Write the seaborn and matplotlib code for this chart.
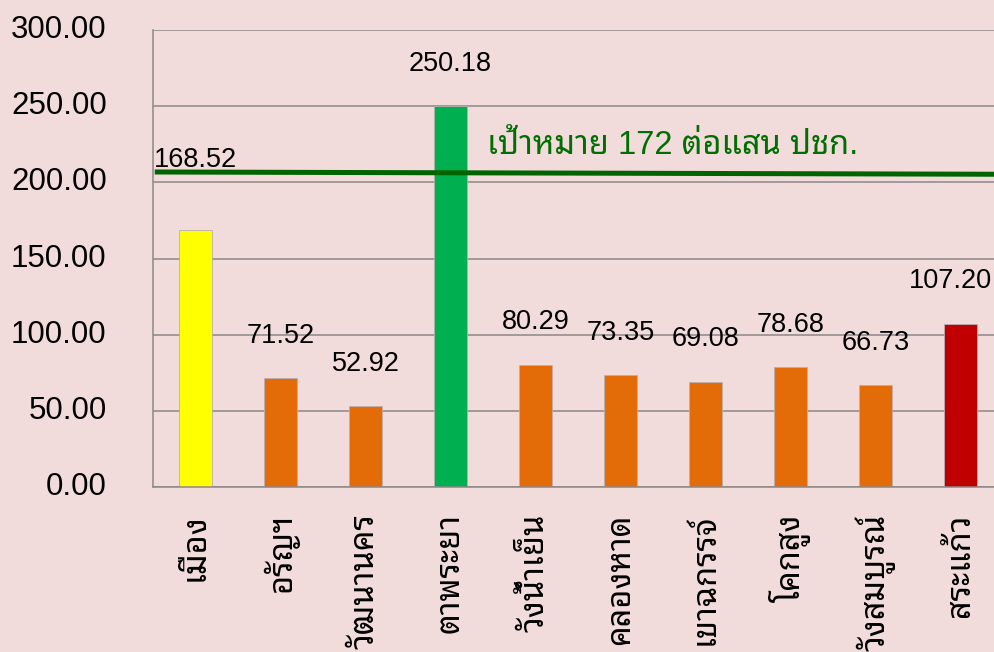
import numpy as np
import matplotlib
matplotlib.use("Agg")
import matplotlib.pyplot as plt
import seaborn as sns

districts = ["เมือง", "อรัญฯ", "วัฒนานคร", "ตาพระยา", "วังน้ำเย็น",
             "คลองหาด", "เขาฉกรรจ์", "โคกสูง", "วังสมบูรณ์", "สระแก้ว"]
rates = [168.52, 71.52, 52.92, 250.18, 80.29, 73.35, 69.08, 78.68, 66.73, 107.20]
bar_colors = ["#FFFF00", "#E36C09", "#E36C09", "#00B050", "#E36C09",
              "#E36C09", "#E36C09", "#E36C09", "#E36C09", "#C00000"]
# target line as drawn in the picture (left end, right end)
target_line = [206.8, 205.3]
target_text = "เป้าหมาย 172 ต่อแสน ปชก."

bg = "#F2DCDB"
grid_c = "#8C8888"
num_font = ["Liberation Sans", "Noto Sans Thai Looped"]
thai_font = ["Noto Sans Thai Looped", "Liberation Sans"]

sns.set_style("white")
plt.rcParams["font.family"] = num_font
plt.rcParams["text.color"] = "black"
plt.rcParams["xtick.color"] = "black"
plt.rcParams["ytick.color"] = "black"

fig = plt.figure(figsize=(9.95, 6.52), dpi=100, facecolor=bg)
ax = fig.add_axes([0.1538, 0.253, 0.854, 0.701], facecolor=bg)

sns.barplot(x=districts, y=rates, hue=districts, palette=bar_colors, legend=False,
            saturation=1, width=0.39, edgecolor="#B8B0B0", linewidth=0.6,
            ax=ax, zorder=2)

ax.set_xlim(-0.5, 9.5)
ax.set_ylim(0, 300)
ax.set_yticks(np.arange(0, 301, 50))
ax.set_yticklabels([f"{v:.2f}" for v in np.arange(0, 301, 50)], fontsize=22.5,
                   color="black", va="center")
ax.yaxis.grid(True, color=grid_c, linewidth=1.1, zorder=0)
ax.set_axisbelow(True)

ax.set_xticks(range(len(districts)))
ax.set_xticklabels(districts, rotation=90, fontsize=23.5, family=thai_font,
                   color="black")
ax.set_xticks(np.arange(-0.5, len(districts), 1), minor=True)
ax.tick_params(axis="x", which="major", length=0, pad=19)
ax.tick_params(axis="x", which="minor", length=9.4, width=1.1, color=grid_c)
ax.tick_params(axis="y", length=9.4, width=1.1, color=grid_c, pad=24)

for s in ["top", "right"]:
    ax.spines[s].set_visible(False)
for s in ["left", "bottom"]:
    ax.spines[s].set_color(grid_c)
    ax.spines[s].set_linewidth(1.1)

ax.set_xlabel("")
ax.set_ylabel("")

# target line
ax.plot([-0.48, 9.5], target_line, color="#006400", linewidth=3.6,
        zorder=4, solid_capstyle="butt", clip_on=False)
ax.text(3.43, 218.6, target_text, color="#006E00", fontsize=23.5, va="baseline",
        ha="left", family=num_font, zorder=5)

# value labels
for i, v in enumerate(rates):
    if i == 0:
        ax.annotate(f"{v:.2f}", xy=(i, target_line[0]), xytext=(0, 8.5),
                    textcoords="offset points", ha="center", va="center",
                    fontsize=19.5, color="black", zorder=6)
    else:
        dx = -7 if i == len(rates) - 1 else 0
        ax.annotate(f"{v:.2f}", xy=(i, v), xytext=(dx, 30.5),
                    textcoords="offset points", ha="center", va="center",
                    fontsize=19.5, color="black", zorder=6)

fig.savefig("out.png", dpi=100, facecolor=bg)
